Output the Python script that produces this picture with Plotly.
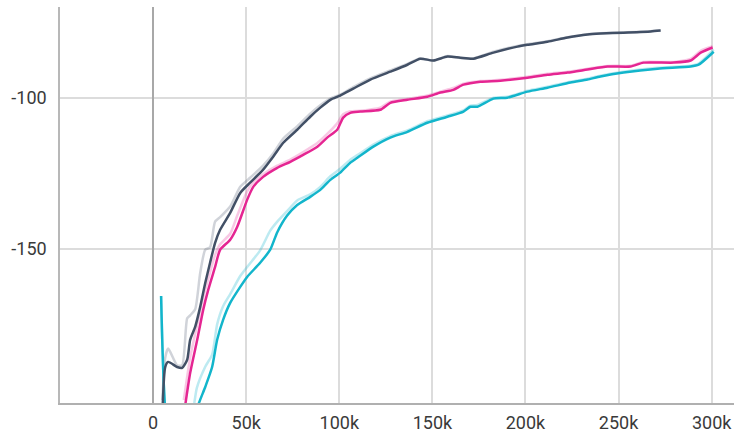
import plotly.graph_objects as go

# ---- data (steps in thousands) ----
dark_x = [5, 6.5, 8.1, 12.9, 15.6, 18.3, 19.9, 22.6, 25.3, 28.0, 30.6, 33.3, 36.0, 41.4, 46.8, 52.1, 59.1, 64.5,
          69.9, 77.4, 84.4, 89.8, 95.2, 100.5, 107.5, 116.7, 127.4, 136.6, 143.5, 150.5, 158.1, 165, 172, 182.8,
          195.7, 201.1, 211.8, 222.6, 233.3, 240.3, 252.7, 267.2, 272.6]
dark_smooth = [-205, -189.1, -187.4, -189.1, -189.4, -186.7, -180.1, -175.8, -169.2, -161.3, -154.6, -148.0,
               -143.7, -138.1, -131.5, -128.1, -123.8, -119.5, -114.9, -110.6, -106.3, -103.3, -100.7, -99.3,
               -97.0, -94.0, -91.4, -89.1, -87.1, -87.7, -86.4, -86.8, -87.1, -85.1, -83.1, -82.5, -81.5, -80.1,
               -79.1, -78.8, -78.5, -78.1, -77.8]
dark_raw = [-200, -186, -183, -188.5, -188.5, -173, -172, -170, -158, -150.3, -149.5, -141, -139.5, -136,
            -129.5, -126.5, -122.5, -118.5, -113.5, -109.5, -105.3, -102.5, -100.3, -99, -96.5, -93.6, -91,
            -88.8, -87, -87.8, -86.2, -86.9, -87, -84.8, -82.9, -82.3, -81.3, -80, -79, -78.7, -78.4, -78,
            -77.7]

pink_x = [16.5, 19.9, 23.7, 26.9, 29.6, 33.3, 36, 41.4, 45.2, 50.5, 53.8, 59.1, 66.7, 73.7, 80.6, 88.2, 93.5,
          98.9, 102.1, 105.9, 111.3, 122, 127.4, 136.6, 147.3, 154.3, 161.3, 166.7, 175.8, 186.5, 201.1, 211.8,
          222.6, 233.3, 244.1, 256.4, 263.4, 279.6, 288.7, 294.1, 300.5]
pink_smooth = [-205, -191.1, -180.1, -170.2, -163.6, -156.0, -150.3, -147.0, -142.7, -133.8, -129.5, -126.2,
               -123.2, -121.2, -118.9, -116.2, -113.2, -110.6, -106.6, -105.0, -104.6, -104.0, -101.7, -100.7,
               -99.7, -98.3, -97.4, -95.7, -94.7, -94.4, -93.4, -92.4, -91.7, -90.7, -89.7, -89.7, -88.4, -88.4,
               -87.7, -85.1, -83.4]
pink_raw = [-200, -186, -175, -166, -160, -152, -148.5, -145, -139, -131, -128, -125.3, -122.5, -120.5, -118,
            -115, -112, -108.5, -105.5, -104.5, -104.3, -103.3, -101.3, -100.4, -99.3, -98, -96.8, -95.4, -94.5,
            -94.1, -93.1, -92.1, -91.4, -90.4, -89.5, -89.4, -88.2, -88.2, -87.2, -84.5, -83]

cyan_x = [4.3, 7, 15, 23.5, 28, 31.7, 34.4, 37.6, 41.4, 46.8, 50.5, 57.5, 62.9, 66.7, 72, 77.4, 84.4, 89.8,
          95.2, 100.5, 105.9, 109.7, 118.3, 127.4, 136.6, 147.3, 158.1, 166.7, 170.4, 174.2, 182.8, 190.3,
          201.1, 211.8, 224.2, 233.3, 240.3, 252.7, 271, 288.7, 293, 301.1]
cyan_smooth = [-165.6, -206.6, -230, -203, -195.7, -189.1, -180.1, -173.5, -167.9, -162.6, -159.3, -154.6,
               -150.3, -144.5, -139, -135.5, -132.8, -130.5, -127.2, -124.8, -121.5, -119.9, -116.2, -113.2,
               -111.3, -108.3, -106.3, -104.6, -103, -103, -100.3, -100, -98, -96.7, -95, -94, -93, -91.7,
               -90.4, -89.7, -89.1, -84.8]
cyan_raw = [-165.6, -206.6, -230, -196, -189, -185, -175, -169, -165, -159, -156, -150.5, -144, -141, -137.5,
            -134, -132, -129.5, -126, -123.5, -120.5, -119, -115.5, -112.7, -110.8, -107.8, -105.9, -104.2,
            -102.6, -102.4, -100, -99.7, -97.7, -96.4, -94.7, -93.7, -92.7, -91.4, -90.1, -89.4, -88.7, -84]

tick_vals = [0, 50, 100, 150, 200, 250, 300]
tick_text = ["0", "50k", "100k", "150k", "200k", "250k", "300k"]
y_tick_vals = [-150, -100]
y_tick_text = ["-150", "-100"]

series = [
    (cyan_x, cyan_raw, cyan_smooth, "#12b5cb", "rgba(18,181,203,0.28)"),
    (pink_x, pink_raw, pink_smooth, "#e52592", "rgba(229,37,146,0.25)"),
    (dark_x, dark_raw, dark_smooth, "#425066", "rgba(66,80,102,0.25)"),
]

fig = go.Figure()
for xs, raw, sm, col, rcol in series:
    fig.add_trace(go.Scatter(x=xs, y=raw, mode="lines",
                             line=dict(color=rcol, width=2.5, shape="spline", smoothing=0.6),
                             hoverinfo="skip", showlegend=False))
for xs, raw, sm, col, rcol in series:
    fig.add_trace(go.Scatter(x=xs, y=sm, mode="lines",
                             line=dict(color=col, width=2.5, shape="spline", smoothing=0.6),
                             showlegend=False))

fig.update_layout(
    width=734, height=434,
    margin=dict(l=60, r=0, t=7, b=31),
    paper_bgcolor="white", plot_bgcolor="white",
    font=dict(family="Roboto", size=18, color="#3a3a3a"),
)
fig.update_xaxes(
    range=[-50, 312], tickvals=tick_vals, ticktext=tick_text,
    showgrid=True, gridcolor="#dcdcdc", gridwidth=1.5,
    zeroline=True, zerolinecolor="#a8a8a8", zerolinewidth=2,
    showline=True, linecolor="#b0b0b0", linewidth=2,
    ticks="outside", ticklen=2, tickcolor="rgba(0,0,0,0)",
)
fig.update_yaxes(
    range=[-201, -70], tickvals=y_tick_vals, ticktext=y_tick_text,
    showgrid=True, gridcolor="#dcdcdc", gridwidth=1.5,
    zeroline=False,
    showline=True, linecolor="#b8b8b8", linewidth=1.5,
    ticks="outside", ticklen=8, tickcolor="rgba(0,0,0,0)",
)

fig.write_html(
    "out.html",
    config={"displayModeBar": False},
    post_script="document.body.style.margin='0';document.body.style.overflow='hidden';",
)
